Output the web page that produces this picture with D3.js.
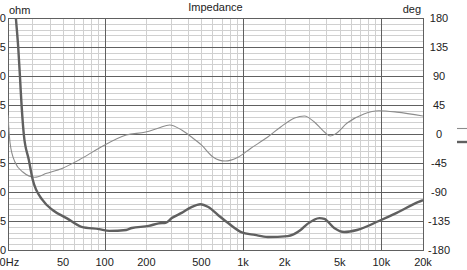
<!DOCTYPE html>
<html>
<head>
<meta charset="utf-8">
<script src="https://cdn.jsdelivr.net/npm/d3@7"></script>
<style>
  body { margin: 0; background: #fff; }
  svg text { font-family: "Liberation Sans", Arial, sans-serif; font-size: 11px; fill: #222; }
</style>
</head>
<body>
<svg id="chart" width="467" height="270"></svg>
<script>
// impedance (ohm) vs frequency
const impFreq = [21, 22.8, 23.7, 24.4, 24.7, 26, 28.3, 30.2, 35.6, 42, 53, 68, 91, 108, 143, 157, 208, 246, 276, 306, 360, 424, 492, 561, 662, 780, 968, 1219, 1510, 2103, 2607, 2925, 3567, 3874, 4560, 5383, 6670, 9596, 12912, 18580, 20000];
const impOhm  = [51, 40, 35, 30, 27.6, 20, 15.5, 12.1, 8.6, 6.9, 5.5, 4.0, 3.6, 3.3, 3.45, 3.8, 4.15, 4.6, 4.7, 5.5, 6.4, 7.4, 7.9, 7.4, 6.0, 4.65, 3.1, 2.6, 2.25, 2.4, 3.45, 4.5, 5.5, 5.35, 3.8, 3.1, 3.45, 5.0, 6.4, 8.3, 8.6];

// phase (deg) vs frequency
const phFreq = [20, 20.7, 22.4, 25.6, 31.2, 38.1, 49.6, 65.6, 91, 143, 198, 246, 295, 360, 424, 500, 610, 743, 920, 1140, 1510, 1871, 2360, 2780, 3280, 3874, 4276, 4645, 5660, 7480, 9596, 12912, 20000];
const phDeg  = [29, -14, -43, -59, -67, -61, -53, -40, -22, -1.6, 3, 9.3, 14, 6.2, -4.7, -17, -36, -42, -36, -22, -4.7, 10.9, 24.8, 28, 18.6, 3.1, -3.1, 0, 17, 31, 36, 34, 28];

const xTicks = [20, 50, 100, 200, 500, 1000, 2000, 5000, 10000, 20000];
const xTickLabels = ["20Hz", "50", "100", "200", "500", "1k", "2k", "5k", "10k", "20k"];
const ohmTicks = [0, 5, 10, 15, 20, 25, 30, 35, 40];
const degTicks = [-180, -135, -90, -45, 0, 45, 90, 135, 180];

const svg = d3.select("#chart");
const L = 8, T = 18, R = 423, B = 250;

const x = d3.scaleLog().domain([20, 20000]).range([L, R]);
const yOhm = d3.scaleLinear().domain([0, 40]).range([B, T]);
const yDeg = d3.scaleLinear().domain([-180, 180]).range([B, T]);

// minor grid
const minorX = [];
[10, 100, 1000, 10000].forEach(d => {
    for (let k = 2; k <= 9; k++) if (d * k >= 20 && d * k <= 20000) minorX.push(d * k);
});
const grid = svg.append("g");
grid.selectAll(".vmin").data(minorX).join("line")
    .attr("x1", d => Math.round(x(d)) + 0.5).attr("x2", d => Math.round(x(d)) + 0.5)
    .attr("y1", T).attr("y2", B)
    .attr("stroke", "#d0d0d0");
const minorY = d3.range(0, 40.01, 1);
grid.selectAll(".hmin").data(minorY).join("line")
    .attr("x1", L).attr("x2", R)
    .attr("y1", d => Math.round(yOhm(d)) + 0.5).attr("y2", d => Math.round(yOhm(d)) + 0.5)
    .attr("stroke", "#d0d0d0");

// major grid
grid.selectAll(".vmaj").data([100, 1000, 10000]).join("line")
    .attr("x1", d => Math.round(x(d)) + 0.5).attr("x2", d => Math.round(x(d)) + 0.5)
    .attr("y1", T).attr("y2", B)
    .attr("stroke", "#606060");
grid.selectAll(".hmaj").data(ohmTicks).join("line")
    .attr("x1", L).attr("x2", R)
    .attr("y1", d => Math.round(yOhm(d)) + 0.5).attr("y2", d => Math.round(yOhm(d)) + 0.5)
    .attr("stroke", "#606060");

// frame
svg.append("rect")
    .attr("x", L + 0.5).attr("y", T + 0.5)
    .attr("width", R - L).attr("height", B - T)
    .attr("fill", "none").attr("stroke", "#606060");

// curves
svg.append("clipPath").attr("id", "plot")
    .append("rect").attr("x", L).attr("y", T).attr("width", R - L).attr("height", B - T);

const phLine = d3.line().curve(d3.curveMonotoneX)
    .x((d, i) => x(phFreq[i])).y(d => yDeg(d));
svg.append("path")
    .attr("clip-path", "url(#plot)")
    .attr("d", phLine(phDeg))
    .attr("fill", "none").attr("stroke", "#8c8c8c").attr("stroke-width", 1.1);

const impLine = d3.line().curve(d3.curveMonotoneX)
    .x((d, i) => x(impFreq[i])).y(d => yOhm(d));
svg.append("path")
    .attr("clip-path", "url(#plot)")
    .attr("d", impLine(impOhm))
    .attr("fill", "none").attr("stroke", "#606060").attr("stroke-width", 2.4);

// axis labels
svg.selectAll(".xl").data(xTicks).join("text")
    .attr("x", (d, i) => i === 0 ? -6.5 : x(d)).attr("y", 266)
    .attr("text-anchor", (d, i) => i === 0 ? "start" : "middle")
    .text((d, i) => xTickLabels[i]);

svg.selectAll(".yl").data(ohmTicks).join("text")
    .attr("x", 6).attr("y", d => yOhm(d) + 4)
    .attr("text-anchor", "end")
    .text(d => d);

svg.selectAll(".yr").data(degTicks).join("text")
    .attr("x", 439).attr("y", d => yDeg(d) + 4)
    .attr("text-anchor", "middle")
    .text(d => d);

svg.append("text").attr("x", 9).attr("y", 14).text("ohm");
svg.append("text").attr("x", 421).attr("y", 13).attr("text-anchor", "end").text("deg");
svg.append("text").attr("x", (L + R) / 2).attr("y", 11).attr("text-anchor", "middle").text("Impedance");

// legend (mostly outside the window)
svg.append("line").attr("x1", 457).attr("x2", 480).attr("y1", 128.5).attr("y2", 128.5)
    .attr("stroke", "#8c8c8c").attr("stroke-width", 1.1);
svg.append("line").attr("x1", 457).attr("x2", 480).attr("y1", 142).attr("y2", 142)
    .attr("stroke", "#606060").attr("stroke-width", 2.4);
svg.append("text").attr("x", 484).attr("y", 132).text("Phase");
svg.append("text").attr("x", 484).attr("y", 146).text("Impedance");
</script>
</body>
</html>
